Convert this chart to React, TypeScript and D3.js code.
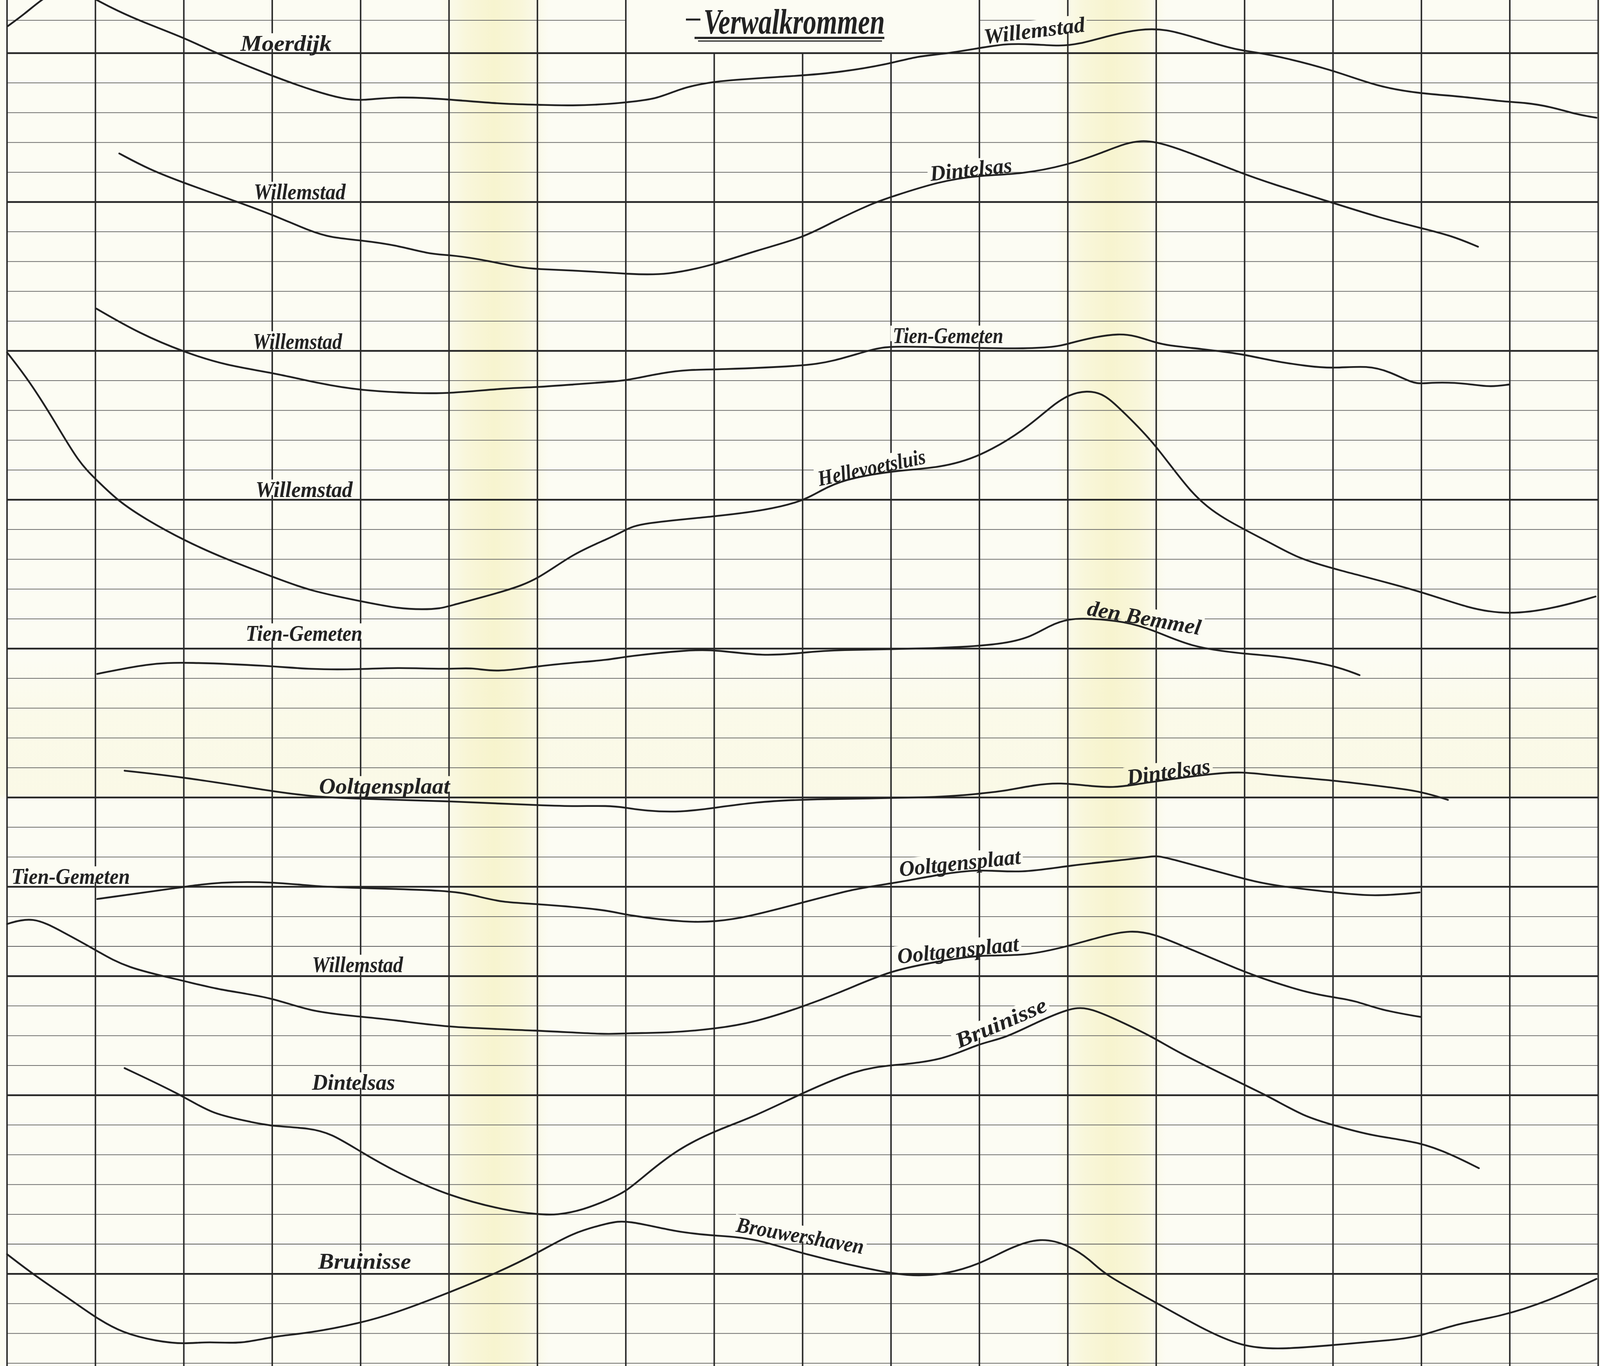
import React from 'react';
import * as d3 from 'd3';

const W = 4097;
const H = 3496;

// grid: columns 0..18, rows -1..44 (row 0 = first heavy line)
const columns = d3.range(0, 19);
const rows = d3.range(-1, 45);
const heavyRows = [0, 5, 10, 15, 20, 25, 28, 31, 35, 41];
const columnsBelowTitle = [8, 9, 10];

// curves as [column, row] readings
const moerdijkWillemstad: [number, number][] = [
  [0.01, -0.91], [0.2, -1.32], [0.38, -1.78], [0.68, -2.35], [1.0, -1.8], [1.25, -1.42], [1.53, -1.05],
  [2.01, -0.51], [2.37, 0.01], [2.99, 0.76], [3.5, 1.3], [3.81, 1.54], [4.0, 1.6], [4.41, 1.45],
  [5.0, 1.55], [5.6, 1.71], [6.0, 1.73], [6.4, 1.77], [6.81, 1.71], [7.0, 1.65], [7.34, 1.55],
  [7.59, 1.22], [7.97, 0.92], [8.96, 0.77], [9.45, 0.63], [9.95, 0.38], [10.32, 0.09], [10.55, 0.05],
  [11.0, -0.17], [11.3, -0.32], [11.6, -0.3], [11.9, -0.24], [12.1, -0.28], [12.51, -0.62],
  [12.8, -0.8], [13.1, -0.83], [13.5, -0.47], [13.9, -0.1], [14.24, 0], [15.0, 0.56], [15.49, 1.12],
  [15.99, 1.36], [16.41, 1.44], [16.99, 1.65], [17.14, 1.65], [17.47, 1.8], [17.74, 2.05], [17.98, 2.17],
];

const willemstadDintelsas: [number, number][] = [
  [1.27, 3.37], [1.61, 3.91], [2.01, 4.37], [2.6, 4.99], [3.0, 5.42], [3.42, 5.97], [3.67, 6.2],
  [3.99, 6.28], [4.41, 6.45], [4.76, 6.74], [5.0, 6.78], [5.3, 6.89], [5.83, 7.22], [6.0, 7.25],
  [6.4, 7.3], [6.81, 7.37], [7.0, 7.41], [7.47, 7.47], [8.03, 7.08], [8.46, 6.64], [9.01, 6.2],
  [9.33, 5.68], [9.8, 5.03], [10.0, 4.83], [10.54, 4.31], [11.0, 4.1], [11.47, 4.07], [12.01, 3.75],
  [12.39, 3.34], [12.66, 3.02], [12.83, 2.94], [12.98, 2.97], [13.25, 3.19], [13.97, 4.04],
  [14.3, 4.38], [15.0, 5.03], [15.54, 5.54], [15.99, 5.87], [16.34, 6.13], [16.64, 6.5],
];

const willemstadTienGemeten: [number, number][] = [
  [1.01, 8.58], [1.5, 9.42], [2.01, 10.05], [2.48, 10.49], [3.0, 10.73], [3.54, 11.1], [3.99, 11.33],
  [4.66, 11.43], [5.0, 11.43], [5.65, 11.25], [6.0, 11.22], [6.4, 11.13], [6.81, 11.04], [7.0, 11.0],
  [7.42, 10.73], [7.72, 10.63], [8.02, 10.63], [9.0, 10.51], [9.33, 10.37], [9.8, 9.93], [10.0, 9.84],
  [10.55, 9.88], [11.0, 9.9], [11.52, 9.93], [11.89, 9.86], [12.01, 9.75], [12.31, 9.53], [12.58, 9.42],
  [12.76, 9.49], [12.98, 9.71], [13.13, 9.82], [13.5, 9.93], [13.97, 10.1], [14.3, 10.33],
  [14.72, 10.52], [15.0, 10.59], [15.4, 10.49], [15.64, 10.7], [15.9, 11.08], [16.0, 11.1],
  [16.22, 11.05], [16.53, 11.1], [16.77, 11.22], [16.99, 11.13],
];

const willemstadHellevoetsluis: [number, number][] = [
  [0, 10.05], [0.26, 11.04], [0.55, 12.42], [0.81, 13.74], [1.01, 14.33], [1.26, 15.05], [1.56, 15.64],
  [2.01, 16.38], [2.48, 17.0], [3.0, 17.58], [3.42, 18.06], [3.99, 18.4], [4.41, 18.65], [4.71, 18.69],
  [4.91, 18.65], [5.0, 18.57], [5.65, 18.06], [6.0, 17.69], [6.4, 16.81], [6.81, 16.3], [7.0, 16.01],
  [7.15, 15.79], [8.02, 15.56], [8.59, 15.35], [9.0, 15.05], [9.2, 14.7], [9.45, 14.33], [10.0, 14.03],
  [10.55, 13.93], [11.0, 13.57], [11.52, 12.64], [11.82, 11.84], [12.01, 11.47], [12.21, 11.33],
  [12.41, 11.43], [12.63, 12.06], [12.98, 13.08], [13.4, 14.84], [13.75, 15.64], [14.3, 16.45],
  [14.6, 16.96], [15.0, 17.32], [15.99, 18.06], [16.53, 18.65], [16.99, 18.87], [17.5, 18.65],
  [17.97, 18.25],
];

const tienGemetenDenBemmel: [number, number][] = [
  [1.02, 20.85], [1.6, 20.5], [2.01, 20.45], [3.0, 20.58], [3.42, 20.7], [3.99, 20.7], [4.41, 20.63],
  [5.0, 20.7], [5.26, 20.63], [5.53, 20.8], [6.0, 20.59], [6.4, 20.47], [6.81, 20.38], [7.0, 20.26],
  [7.72, 20.04], [8.02, 20.04], [8.56, 20.26], [9.0, 20.14], [9.33, 20.04], [10.55, 20.0],
  [11.27, 19.86], [11.59, 19.6], [11.79, 19.23], [12.01, 18.99], [12.26, 18.99], [12.63, 19.08],
  [12.98, 19.38], [13.4, 19.96], [14.0, 20.18], [14.41, 20.26], [15.0, 20.55], [15.3, 20.89],
];

const ooltgensplaatDintelsas: [number, number][] = [
  [1.33, 24.1], [2.01, 24.32], [3.0, 24.79], [3.42, 24.96], [3.99, 25.05], [5.0, 25.12], [6.0, 25.26],
  [6.4, 25.3], [6.8, 25.27], [7.0, 25.34], [7.22, 25.45], [7.62, 25.5], [8.02, 25.34], [8.46, 25.16],
  [9.0, 25.05], [10.55, 25.01], [11.0, 24.87], [11.27, 24.79], [11.64, 24.57], [11.91, 24.5],
  [12.26, 24.62], [12.51, 24.67], [12.76, 24.57], [12.98, 24.46], [13.63, 24.2], [13.97, 24.13],
  [14.3, 24.26], [15.0, 24.42], [15.62, 24.65], [15.99, 24.79], [16.3, 25.08],
];

const tienGemetenOoltgensplaat: [number, number][] = [
  [1.02, 28.41], [2.01, 28.0], [2.39, 27.84], [3.0, 27.83], [3.54, 28.0], [3.99, 28.04], [5.0, 28.12],
  [5.28, 28.28], [5.6, 28.53], [6.0, 28.57], [6.81, 28.78], [7.0, 28.96], [7.72, 29.21], [8.02, 29.16],
  [8.34, 29.04], [9.0, 28.53], [9.62, 28.04], [10.0, 27.9], [10.57, 27.57], [11.0, 27.4],
  [11.47, 27.55], [12.01, 27.28], [12.76, 27.06], [12.98, 26.96], [13.08, 26.98], [13.97, 27.72],
  [14.3, 27.95], [15.0, 28.19], [15.47, 28.33], [15.98, 28.19],
];

const willemstadOoltgensplaat: [number, number][] = [
  [0, 29.25], [0.29, 28.99], [0.61, 29.48], [1.01, 30.13], [1.34, 30.72], [2.01, 31.16], [2.39, 31.46],
  [3.0, 31.71], [3.42, 32.19], [3.99, 32.36], [4.41, 32.48], [5.0, 32.73], [6.0, 32.82], [6.81, 32.97],
  [7.0, 32.91], [7.47, 32.91], [8.02, 32.77], [8.46, 32.55], [9.0, 32.03], [9.45, 31.52], [10.0, 30.8],
  [10.55, 30.5], [11.0, 30.28], [11.52, 30.33], [12.01, 29.99], [12.39, 29.66], [12.71, 29.45],
  [12.98, 29.59], [13.25, 29.92], [13.97, 30.83], [14.3, 31.18], [14.72, 31.56], [15.0, 31.71],
  [15.25, 31.82], [15.54, 32.14], [15.99, 32.37],
];

const dintelsasBruinisse: [number, number][] = [
  [1.33, 34.09], [2.01, 35.04], [2.31, 35.63], [2.8, 35.92], [3.0, 36.04], [3.42, 36.1], [3.67, 36.29],
  [3.99, 36.88], [4.41, 37.6], [5.0, 38.39], [5.65, 38.88], [6.0, 39.0], [6.22, 39.03], [6.52, 38.85],
  [6.81, 38.5], [7.0, 38.24], [7.22, 37.68], [7.59, 36.8], [8.02, 36.18], [8.46, 35.71], [9.0, 34.92],
  [9.62, 34.13], [10.0, 33.99], [10.57, 33.85], [11.0, 33.25], [11.27, 33.11], [11.64, 32.56],
  [12.01, 32.09], [12.21, 32.03], [12.51, 32.4], [12.98, 33.07], [13.23, 33.54], [13.97, 34.61],
  [14.3, 35.08], [14.67, 35.71], [15.0, 36.0], [15.44, 36.37], [15.99, 36.57], [16.36, 37.02],
  [16.65, 37.45],
];

const bruinisseBrouwershaven: [number, number][] = [
  [0, 40.34], [0.31, 41.05], [0.75, 41.93], [1.01, 42.48], [1.3, 42.98], [1.7, 43.27], [2.01, 43.36],
  [2.28, 43.27], [2.64, 43.36], [3.0, 43.1], [3.42, 42.99], [3.99, 42.66], [4.41, 42.3], [5.0, 41.63],
  [5.51, 41.01], [6.0, 40.31], [6.4, 39.61], [6.81, 39.29], [7.0, 39.18], [7.59, 39.61], [8.02, 39.72],
  [8.46, 39.8], [9.0, 40.34], [10.0, 41.01], [10.32, 41.07], [10.61, 41.01], [11.0, 40.68],
  [11.34, 40.13], [11.69, 39.76], [12.01, 40.03], [12.26, 40.54], [12.41, 41.02], [12.98, 41.93],
  [13.5, 42.81], [13.97, 43.46], [14.41, 43.54], [15.0, 43.39], [15.69, 43.22], [15.99, 43.1],
  [16.41, 42.66], [16.89, 42.44], [17.45, 41.9], [17.98, 41.17],
];

const curves = [
  moerdijkWillemstad, willemstadDintelsas, willemstadTienGemeten, willemstadHellevoetsluis,
  tienGemetenDenBemmel, ooltgensplaatDintelsas, tienGemetenOoltgensplaat, willemstadOoltgensplaat,
  dintelsasBruinisse, bruinisseBrouwershaven,
];

const stationNames = [
  'Moerdijk', 'Willemstad', 'Dintelsas', 'Willemstad', 'Willemstad', 'Tien-Gemeten', 'Willemstad',
  'Hellevoetsluis', 'Tien-Gemeten', 'den Bemmel', 'Ooltgensplaat', 'Dintelsas', 'Tien-Gemeten',
  'Ooltgensplaat', 'Willemstad', 'Ooltgensplaat', 'Dintelsas', 'Bruinisse', 'Bruinisse', 'Brouwershaven',
];

const titleText = 'Verwalkrommen';

// label layout: [column, row, angle, length in columns]
const labelLayout: [number, number, number, number][] = [
  [2.64, -0.08, 0, 1.03], [11.06, -0.31, -7, 1.15], [10.45, 4.29, -6, 0.93], [2.79, 4.91, 0, 1.04],
  [2.78, 9.93, 0, 1.01], [10.02, 9.74, 0, 1.25], [2.81, 14.91, 0, 1.1], [9.19, 14.54, -12, 1.24],
  [2.7, 19.74, 0, 1.32], [12.21, 18.87, 10, 1.3], [3.53, 24.87, 0, 1.48], [12.68, 24.57, -8, 0.95],
  [0.05, 27.9, 0, 1.34], [10.1, 27.65, -6, 1.38], [3.45, 30.87, 0, 1.03], [10.08, 30.58, -6, 1.38],
  [3.45, 34.82, 0, 0.94], [10.77, 33.43, -23, 1.1], [3.52, 40.83, 0, 1.05], [8.24, 39.58, 10, 1.46],
];

const x = d3.scaleLinear().domain([0, 18]).range([18, 18 + 18 * 226.3]);
const y = d3.scaleLinear().domain([0, 44]).range([136, 136 + 44 * 76.2]);
const colW = x(1) - x(0);

const line = d3
  .line<[number, number]>()
  .x((d) => x(d[0]))
  .y((d) => y(d[1]))
  .curve(d3.curveBasis);

const BG = '#fcfcf3';
const BAND = '#f6f2c6';
const INK = '#222222';
const LABEL_FS = 56;

export default function App() {
  const labels = stationNames.map((name, i) => {
    const [c, r, a, len] = labelLayout[i];
    return { name, tx: x(c), ty: y(r), a, len: len * colW };
  });

  const hLines: { x1: number; x2: number; y: number; heavy: boolean }[] = [];
  rows.forEach((r) => {
    const heavy = heavyRows.includes(r);
    if (r === -1) {
      hLines.push({ x1: x(0), x2: x(7), y: y(r) - 8, heavy });
      hLines.push({ x1: x(11), x2: x(18), y: y(r) - 8, heavy });
    } else {
      hLines.push({ x1: x(0), x2: x(18), y: y(r), heavy });
    }
  });

  return (
    <>
      <style>{'body{margin:0;}'}</style>
      <svg width={W} height={H} viewBox={`0 0 ${W} ${H}`} style={{ display: 'block' }}>
        <defs>
          <linearGradient id="vband" x1="0" x2="1" y1="0" y2="0">
            <stop offset="0" stopColor={BAND} stopOpacity="0" />
            <stop offset="0.25" stopColor={BAND} stopOpacity="0.55" />
            <stop offset="0.5" stopColor={BAND} stopOpacity="0.8" />
            <stop offset="0.75" stopColor={BAND} stopOpacity="0.55" />
            <stop offset="1" stopColor={BAND} stopOpacity="0" />
          </linearGradient>
          <linearGradient id="hband" x1="0" x2="0" y1="0" y2="1">
            <stop offset="0" stopColor={BAND} stopOpacity="0" />
            <stop offset="0.4" stopColor={BAND} stopOpacity="0.22" />
            <stop offset="0.96" stopColor={BAND} stopOpacity="0.28" />
            <stop offset="1" stopColor={BAND} stopOpacity="0" />
          </linearGradient>
          <mask id="gridMask" maskUnits="userSpaceOnUse" x="0" y="0" width={W} height={H}>
            <rect x="0" y="0" width={W} height={H} fill="white" />
            {labels.map((l, i) => (
              <rect
                key={i}
                transform={`translate(${l.tx},${l.ty}) rotate(${l.a})`}
                x={-6}
                y={-LABEL_FS * 0.8}
                width={l.len + 12}
                height={LABEL_FS * 0.8 - 5}
                fill="black"
              />
            ))}
          </mask>
        </defs>

        <rect x="0" y="0" width={W} height={H} fill={BG} />
        <rect x={1125} y={0} width={280} height={H} fill="url(#vband)" />
        <rect x={2705} y={0} width={280} height={H} fill="url(#vband)" />
        <rect x={0} y={1690} width={W} height={356} fill="url(#hband)" />

        <g mask="url(#gridMask)">
          {hLines.map((h, i) => (
            <line
              key={'h' + i}
              x1={h.x1}
              x2={h.x2}
              y1={h.y}
              y2={h.y}
              stroke={h.heavy ? '#262626' : '#5c5c5c'}
              strokeWidth={h.heavy ? 4.5 : 1.8}
            />
          ))}
          {columns.map((c) => (
            <line
              key={'v' + c}
              x1={x(c)}
              x2={x(c)}
              y1={columnsBelowTitle.includes(c) ? y(0) : 0}
              y2={H}
              stroke="#2a2a2a"
              strokeWidth={3.8}
            />
          ))}
        </g>

        {curves.map((pts, i) => (
          <path
            key={'c' + i}
            d={line(pts) || ''}
            fill="none"
            stroke={INK}
            strokeWidth={4.6}
            strokeLinecap="round"
            strokeLinejoin="round"
          />
        ))}

        {labels.map((l, i) => (
          <text
            key={'l' + i}
            transform={`translate(${l.tx},${l.ty}) rotate(${l.a})`}
            fontFamily="'Liberation Serif', 'DejaVu Serif', serif"
            fontStyle="italic"
            fontWeight="bold"
            fontSize={LABEL_FS}
            fill={INK}
            textLength={l.len}
            lengthAdjust="spacingAndGlyphs"
          >
            {l.name}
          </text>
        ))}

        <g>
          <line x1={1756} x2={1793} y1={50} y2={50} stroke={INK} strokeWidth={5} />
          <text
            x={1801}
            y={86}
            fontFamily="'Liberation Serif', 'DejaVu Serif', serif"
            fontStyle="italic"
            fontWeight="bold"
            fontSize={92}
            fill={INK}
            textLength={464}
            lengthAdjust="spacingAndGlyphs"
          >
            {titleText}
          </text>
          <line x1={1778} x2={2264} y1={97} y2={97} stroke={INK} strokeWidth={5.5} />
          <line x1={1787} x2={2258} y1={105} y2={105} stroke={INK} strokeWidth={3} />
        </g>
      </svg>
    </>
  );
}
